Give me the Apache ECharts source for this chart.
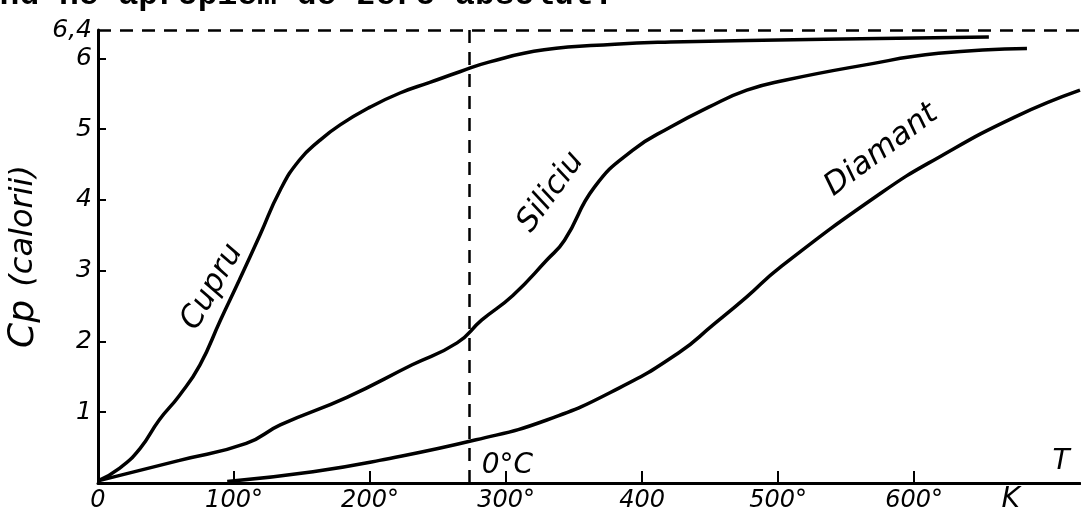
<!DOCTYPE html>
<html>
<head>
<meta charset="utf-8">
<script src="https://cdn.jsdelivr.net/npm/echarts@6/dist/echarts.min.js"></script>
<style>
  html, body { margin: 0; padding: 0; background: #fff; }
</style>
</head>
<body>
<div id="chart" style="width: 1081px; height: 523px"></div>
<script>
// curves: [T (K), Cp (calorii)]
const cupru = [
  [0, 0.03], [16, 0.21], [31, 0.49], [45, 0.89], [60, 1.24], [75, 1.67],
  [90, 2.3], [104, 2.87], [119, 3.5], [134, 4.14], [148, 4.56], [163, 4.84],
  [178, 5.06], [200, 5.31], [222, 5.51], [244, 5.66], [266, 5.81], [288, 5.95],
  [328, 6.12], [380, 6.2], [421, 6.23], [534, 6.27], [655, 6.3]
];
const siliciu = [
  [0, 0.03], [60, 0.32], [109, 0.56], [134, 0.82], [183, 1.21], [231, 1.67],
  [264, 1.98], [282, 2.3], [305, 2.65], [330, 3.15], [343, 3.43], [365, 4.18],
  [393, 4.7], [421, 5.03], [449, 5.31], [477, 5.55], [505, 5.69], [562, 5.9],
  [618, 6.07], [683, 6.14]
];
const diamant = [
  [95, 0.02], [158, 0.16], [207, 0.32], [278, 0.61], [330, 0.89], [383, 1.34],
  [427, 1.84], [452, 2.23], [477, 2.63], [501, 3.04], [576, 4.1], [618, 4.6],
  [674, 5.17], [722, 5.55]
];

const xTicks = [100, 200, 300, 400, 500, 600];
const xLabels = [0, 100, 200, 300, 400, 500, 600];
const yTicks = [1, 2, 3, 4, 5, 6];
const yLabels = [1, 2, 3, 4, 5, 6, 6.4];
const cpMax = 6.4;
const tMax = 722;
const zeroCelsius = 273;

// text placed on the curves: [text, T, Cp, rotation deg]
const curveNotes = [
  ["Cupru", 84, 2.77, 60],
  ["Siliciu", 333, 4.11, 54],
  ["Diamant", 576, 4.7, 37]
];

const hand = '"DejaVu Sans", sans-serif';

const chart = echarts.init(document.getElementById("chart"));

const lineStyle = { color: "#000", width: 3.5 };

chart.setOption({
  animation: false,
  grid: { left: 98, right: 1, top: 30, bottom: 40, outerBoundsMode: "none" },
  xAxis: {
    type: "value",
    min: 0,
    max: tMax,
    interval: 100,
    splitLine: { show: false },
    axisLine: { show: true, lineStyle: { color: "#000", width: 3 } },
    axisTick: {
      show: true,
      inside: true,
      length: 12,
      customValues: xTicks,
      lineStyle: { color: "#000", width: 2 }
    },
    axisLabel: {
      customValues: xLabels,
      formatter: (v) => (v === 0 || v === 400 ? String(v) : v + "°"),
      color: "#000",
      fontFamily: hand,
      fontStyle: "italic",
      fontSize: 24,
      margin: 6
    }
  },
  yAxis: {
    type: "value",
    min: 0,
    max: cpMax,
    interval: 1,
    splitLine: { show: false },
    axisLine: { show: true, lineStyle: { color: "#000", width: 3 } },
    axisTick: {
      show: true,
      inside: true,
      length: 8,
      customValues: yTicks,
      lineStyle: { color: "#000", width: 2 }
    },
    axisLabel: {
      customValues: yLabels,
      formatter: (v) => String(v).replace(".", ","),
      color: "#000",
      fontFamily: hand,
      fontStyle: "italic",
      fontSize: 25,
      margin: 6
    },
    name: "{a|Cp}    {b|(calorii)}",
    nameLocation: "middle",
    nameRotate: 90,
    nameGap: 56,
    nameTextStyle: {
      rich: {
        a: { fontFamily: hand, fontStyle: "italic", fontSize: 36, color: "#000" },
        b: { fontFamily: hand, fontStyle: "italic", fontSize: 32, color: "#000" }
      }
    }
  },
  series: [
    {
      name: "Cupru",
      type: "line",
      data: cupru,
      smooth: 0.5,
      showSymbol: false,
      lineStyle: lineStyle,
      markLine: {
        silent: true,
        symbol: "none",
        label: { show: false },
        lineStyle: { color: "#000", width: 2.5, type: [13, 9] },
        data: [
          [{ coord: [0, cpMax] }, { coord: [tMax, cpMax] }],
          [{ coord: [zeroCelsius, 0] }, { coord: [zeroCelsius, cpMax] }]
        ]
      }
    },
    {
      name: "Siliciu",
      type: "line",
      data: siliciu,
      smooth: 0.5,
      showSymbol: false,
      lineStyle: lineStyle
    },
    {
      name: "Diamant",
      type: "line",
      data: diamant,
      smooth: 0.5,
      showSymbol: false,
      lineStyle: lineStyle
    }
  ]
});

function place(t, cp) {
  return chart.convertToPixel({ gridIndex: 0 }, [t, cp]);
}

const graphics = curveNotes.map(([text, t, cp, rot]) => {
  const p = place(t, cp);
  return {
    type: "text",
    x: p[0],
    y: p[1],
    rotation: (rot * Math.PI) / 180,
    style: {
      text: text,
      fill: "#000",
      font: "italic 31px " + hand,
      align: "center",
      verticalAlign: "middle"
    }
  };
});

const pC = place(301, 0.24);
const pT = place(708, 0.3);
const pK = place(671, -0.24);

graphics.push(
  {
    type: "text", x: pC[0], y: pC[1],
    style: { text: "0°C", fill: "#000", font: "italic 28px " + hand, align: "center", verticalAlign: "middle" }
  },
  {
    type: "text", x: pT[0], y: pT[1],
    style: { text: "T", fill: "#000", font: "italic 28px " + hand, align: "center", verticalAlign: "middle" }
  },
  {
    type: "text", x: pK[0], y: pK[1],
    style: { text: "K", fill: "#000", font: "italic 28px " + hand, align: "center", verticalAlign: "middle" }
  },
  {
    // line of the page text above the figure, cut by the crop
    type: "text", x: -40, y: 12,
    style: {
      text: "când ne apropiem de zero absolut.",
      fill: "#000",
      font: 'bold 33px "Liberation Mono", monospace',
      align: "left",
      verticalAlign: "bottom"
    }
  }
);

chart.setOption({ graphic: graphics });
</script>
</body>
</html>
